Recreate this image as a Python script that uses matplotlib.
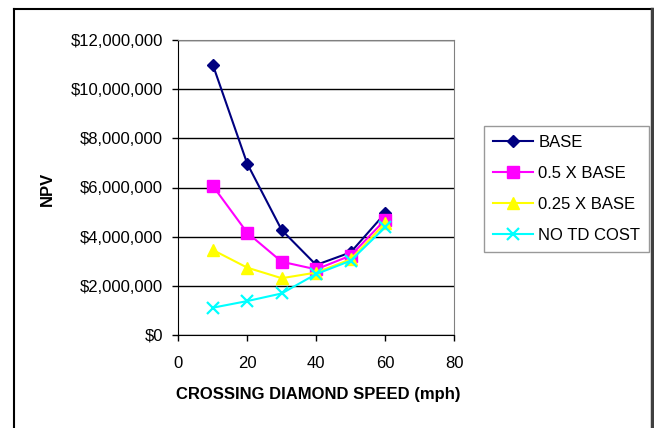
import matplotlib
matplotlib.use("Agg")
import matplotlib.pyplot as plt
from matplotlib.ticker import FuncFormatter, MultipleLocator
from matplotlib.lines import Line2D

plt.rcParams['font.family'] = ['Liberation Sans', 'DejaVu Sans']

speed = [10, 20, 30, 40, 50, 60]
base = [11.0e6, 6.97e6, 4.27e6, 2.85e6, 3.36e6, 4.95e6]
half_base = [6.07e6, 4.16e6, 2.98e6, 2.67e6, 3.23e6, 4.68e6]
quarter_base = [3.46e6, 2.74e6, 2.31e6, 2.54e6, 3.08e6, 4.54e6]
no_td = [1.11e6, 1.38e6, 1.69e6, 2.48e6, 3.02e6, 4.38e6]
labels = ["BASE", "0.5 X BASE", "0.25 X BASE", "NO TD COST"]

W, H = 654, 428
fig = plt.figure(figsize=(W / 100, H / 100), dpi=100)
ax = fig.add_axes([178.3 / W, 1 - 335 / H, (454 - 178.3) / W, (335 - 40) / H])

series = [base, half_base, quarter_base, no_td]
colors = ["#000080", "#FF00FF", "#FFFF00", "#00FFFF"]
markers = ["D", "s", "^", "x"]
msizes = [6.5, 8, 8.5, 8]
for vals, c, m, ms, lab in zip(series, colors, markers, msizes, labels):
    kw = dict(markeredgewidth=1.6) if m == "x" else dict(markeredgecolor=c)
    ax.plot(speed, vals, color=c, marker=m, markersize=ms, linewidth=1.5,
            markerfacecolor=c, label=lab, **kw)

ax.set_xlim(0, 80)
ax.set_ylim(0, 12e6)
ax.xaxis.set_major_locator(MultipleLocator(20))
ax.yaxis.set_major_locator(MultipleLocator(2e6))
ax.yaxis.set_major_formatter(FuncFormatter(lambda v, p: "${:,.0f}".format(v)))
ax.yaxis.grid(True, color="black", linewidth=1.0)
ax.set_axisbelow(True)
for s in ["top", "right"]:
    ax.spines[s].set_color("#808080")
for s in ["left", "bottom"]:
    ax.spines[s].set_color("black")
ax.tick_params(axis="both", direction="out", length=4, width=1, labelsize=12, colors="black")
ax.tick_params(axis="y", pad=7)
ax.tick_params(axis="x", pad=11)

fig.text(317.9 / W, 1 - 395 / H, "CROSSING DIAMOND SPEED (mph)", ha="center", va="center",
         fontsize=12, fontweight="bold")
fig.text(47 / W, 1 - 189 / H, "NPV", ha="center", va="center", rotation=90,
         fontsize=12, fontweight="bold")

leg = fig.legend(loc="upper left", bbox_to_anchor=(484 / W, 1 - 126 / H),
                 bbox_transform=fig.transFigure, borderaxespad=0, fontsize=12,
                 frameon=True, fancybox=False, edgecolor="#808080",
                 handlelength=2.4, handletextpad=0.3, labelspacing=0.95,
                 borderpad=0.55)
leg.get_frame().set_linewidth(1.0)

# outer chart frame
fig.add_artist(Line2D([13.5 / W, 13.5 / W], [0, 1 - 8.5 / H], transform=fig.transFigure,
                      color="black", linewidth=1.5))
fig.add_artist(Line2D([13.5 / W, 652 / W], [1 - 8.5 / H, 1 - 8.5 / H], transform=fig.transFigure,
                      color="black", linewidth=1.5))
fig.add_artist(Line2D([652.3 / W, 652.3 / W], [0, 1 - 8.5 / H], transform=fig.transFigure,
                      color="#404040", linewidth=2.5))

fig.savefig("out.png", dpi=100)
